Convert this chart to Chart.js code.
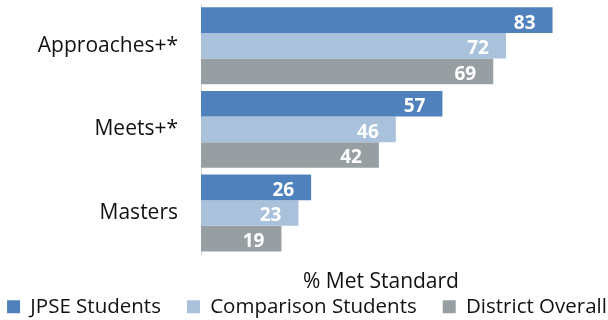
<!DOCTYPE html>
<html>
<head>
<meta charset="utf-8">
<script src="https://cdn.jsdelivr.net/npm/chart.js@4/dist/chart.umd.min.js"></script>
<style>
  html, body { margin: 0; padding: 0; background: #fff; }
  #wrap { width: 608px; height: 320px; position: relative; }
</style>
</head>
<body>
<div id="wrap"><canvas id="c" width="608" height="320"></canvas></div>
<script>
const categories = ['Approaches+*', 'Meets+*', 'Masters'];
const seriesNames = ['JPSE Students', 'Comparison Students', 'District Overall'];
const jpseValues = [83, 57, 26];
const comparisonValues = [72, 46, 23];
const districtValues = [69, 42, 19];
const axisTitle = '% Met Standard';

const colors = ['#4F81BD', '#A9C1DB', '#989FA2'];
const FONT = '"Open Sans", sans-serif';

const valueLabels = {
  id: 'valueLabels',
  afterDatasetsDraw(chart) {
    const ctx = chart.ctx;
    ctx.save();
    ctx.font = 'bold 19px ' + FONT;
    ctx.fillStyle = '#ffffff';
    ctx.textAlign = 'right';
    ctx.textBaseline = 'middle';
    chart.data.datasets.forEach((ds, i) => {
      const meta = chart.getDatasetMeta(i);
      meta.data.forEach((el, j) => {
        ctx.fillText(String(ds.data[j]), el.x - 17, el.y + 3);
      });
    });
    ctx.restore();
  }
};

new Chart(document.getElementById('c'), {
  type: 'bar',
  data: {
    labels: categories,
    datasets: [
      { label: seriesNames[0], data: jpseValues, backgroundColor: colors[0] },
      { label: seriesNames[1], data: comparisonValues, backgroundColor: colors[1] },
      { label: seriesNames[2], data: districtValues, backgroundColor: colors[2] }
    ]
  },
  options: {
    indexAxis: 'y',
    responsive: false,
    animation: false,
    devicePixelRatio: 1,
    layout: { padding: { top: 4, left: -27, right: -33, bottom: -7 } },
    datasets: { bar: { categoryPercentage: 0.92, barPercentage: 1.0 } },
    scales: {
      x: {
        min: 0, max: 85,
        grid: { display: false, drawTicks: false },
        border: { display: false },
        ticks: { display: false },
        title: {
          display: true, text: axisTitle, color: '#111',
          font: { family: FONT, size: 21 }, padding: { top: 15, bottom: -24.5 }
        }
      },
      y: {
        grid: { display: false, drawTicks: false },
        border: { display: true, color: '#D9D9D9', width: 1 },
        ticks: { color: '#111', font: { family: FONT, size: 21 }, padding: 23 },
        afterFit(scale) { scale.width = 228; scale.paddingTop = 0; scale.paddingBottom = 0; }
      },
      yr: {
        position: 'right',
        type: 'category',
        labels: categories,
        grid: { display: false, drawTicks: false },
        border: { display: false },
        ticks: { display: false },
        afterFit(scale) { scale.width = 80; scale.paddingTop = 0; scale.paddingBottom = 0; }
      }
    },
    plugins: {
      legend: {
        position: 'bottom',
        labels: {
          boxWidth: 13, boxHeight: 13, padding: 26,
          color: '#111', font: { family: FONT, size: 20.5 }
        }
      },
      tooltip: { enabled: false }
    }
  },
  plugins: [valueLabels]
});
</script>
</body>
</html>
